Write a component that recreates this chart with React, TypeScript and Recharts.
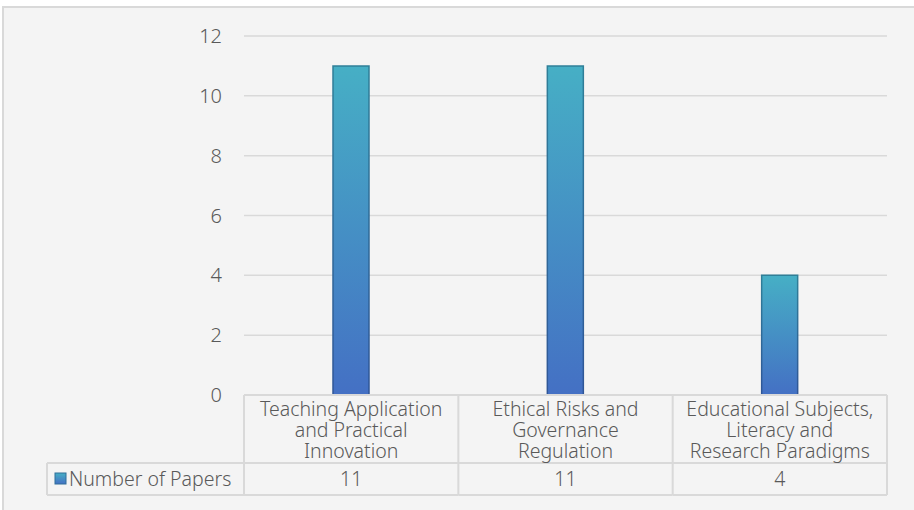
import { BarChart, Bar, XAxis, YAxis, CartesianGrid } from 'recharts';

// chart values
const categoryLines = [
  ['Teaching Application', 'and Practical', 'Innovation'],
  ['Ethical Risks and', 'Governance', 'Regulation'],
  ['Educational Subjects,', 'Literacy and', 'Research Paradigms'],
];
const paperCounts = [11, 11, 4];
const seriesName = 'Number of Papers';
const yTicks = [0, 2, 4, 6, 8, 10, 12];

const data = categoryLines.map((lines, i) => ({
  name: lines.join(' '),
  papers: paperCounts[i],
}));

// layout
const W = 914;
const H = 510;
const MARGIN = { top: 36, right: 27, bottom: 15, left: 0 };
const Y_AXIS_W = 244;
const BAND = (W - Y_AXIS_W - MARGIN.right) / categoryLines.length;
const HEADER_H = 68;
const TABLE_H = 100;
const LEGEND_LEFT = 47;
const LINE = '#d9d9d9';
const TEXT = '#595959';
const FONT = '"Noto Sans", "DejaVu Sans", sans-serif';

const TableTick = (props: any) => {
  const { x, y, index } = props;
  const left = x - BAND / 2;
  const right = x + BAND / 2;
  const lines = categoryLines[index] || [];
  return (
    <g fontFamily={FONT} fontSize={19.5} fontWeight={300} fill={TEXT}>
      {index === 0 && (
        <g>
          <line x1={left} y1={y} x2={left} y2={y + TABLE_H} stroke={LINE} strokeWidth={2} />
          <line x1={LEGEND_LEFT} y1={y + HEADER_H} x2={left} y2={y + HEADER_H} stroke={LINE} strokeWidth={2} />
          <line x1={LEGEND_LEFT} y1={y + TABLE_H} x2={left} y2={y + TABLE_H} stroke={LINE} strokeWidth={2} />
          <line x1={LEGEND_LEFT} y1={y + HEADER_H} x2={LEGEND_LEFT} y2={y + TABLE_H} stroke={LINE} strokeWidth={2} />
          <rect x={55} y={y + 78} width={11} height={11} fill="url(#barFill)" stroke="#2f6f9a" strokeWidth={1} />
          <text x={69} y={y + 91} textAnchor="start" fill={TEXT}>
            {seriesName}
          </text>
        </g>
      )}
      <line x1={right} y1={y} x2={right} y2={y + TABLE_H} stroke={LINE} strokeWidth={2} />
      <line x1={left} y1={y + HEADER_H} x2={right} y2={y + HEADER_H} stroke={LINE} strokeWidth={2} />
      <line x1={left} y1={y + TABLE_H} x2={right} y2={y + TABLE_H} stroke={LINE} strokeWidth={2} />
      <text x={x} y={y + 21} textAnchor="middle" fill={TEXT}>
        {lines.map((t: string, i: number) => (
          <tspan key={i} x={x} dy={i === 0 ? 0 : 21}>
            {t}
          </tspan>
        ))}
      </text>
      <text x={x} y={y + 91} textAnchor="middle" fill={TEXT}>
        {paperCounts[index]}
      </text>
    </g>
  );
};

const App = () => {
  return (
    <div style={{ position: 'absolute', left: 0, top: 0, width: W, height: H, overflow: 'hidden', background: '#ffffff' }}>
      <div
        style={{
          position: 'absolute',
          left: 2,
          top: 6,
          width: 1000,
          height: 600,
          background: '#f4f4f4',
          borderTop: `2px solid ${LINE}`,
          borderLeft: `2px solid ${LINE}`,
        }}
      />
      <div style={{ position: 'absolute', left: 0, top: 0 }}>
        <BarChart width={W} height={H} data={data} margin={MARGIN}>
          <defs>
            <linearGradient id="barFill" x1="0" y1="0" x2="0" y2="1">
              <stop offset="0%" stopColor="#46afc5" />
              <stop offset="100%" stopColor="#4470c4" />
            </linearGradient>
            <linearGradient id="barStroke" x1="0" y1="0" x2="0" y2="1">
              <stop offset="0%" stopColor="#2f7f98" />
              <stop offset="100%" stopColor="#2f5597" />
            </linearGradient>
          </defs>
          <CartesianGrid vertical={false} stroke={LINE} strokeWidth={1.5} />
          <XAxis
            dataKey="name"
            height={TABLE_H}
            axisLine={{ stroke: LINE, strokeWidth: 2 }}
            tickLine={false}
            tickSize={0}
            tickMargin={0}
            interval={0}
            tick={<TableTick />}
          />
          <YAxis
            width={Y_AXIS_W}
            domain={[0, 12]}
            ticks={yTicks}
            axisLine={false}
            tickLine={false}
            tickSize={0}
            tickMargin={22}
            tick={{ fill: TEXT, fontSize: 20, fontWeight: 300, fontFamily: FONT }}
          />
          <Bar
            dataKey="papers"
            name={seriesName}
            barSize={36}
            fill="url(#barFill)"
            stroke="url(#barStroke)"
            strokeWidth={1.5}
            isAnimationActive={false}
          />
        </BarChart>
      </div>
    </div>
  );
};

export default App;
